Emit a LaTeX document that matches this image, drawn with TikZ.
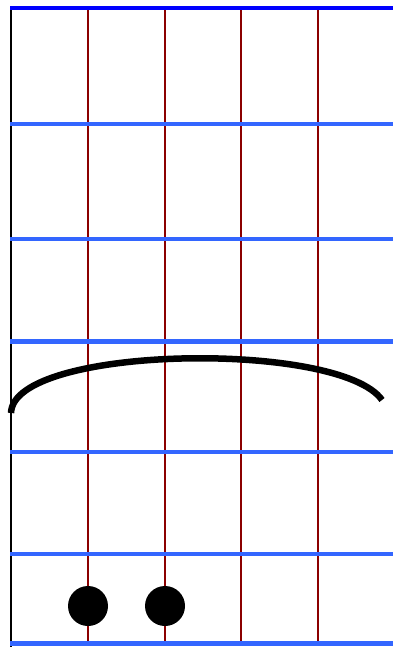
\documentclass[tikz,border=0pt]{standalone}
\usepackage{tikz}

\definecolor{fretblue}{RGB}{51,102,255}
\definecolor{nutblue}{RGB}{0,0,255}
\definecolor{stringred}{RGB}{139,0,0}

\tikzset{every picture/.style={line width=0.75pt}}
\tikzset{
	fret/.style={draw=fretblue, line width=4.5pt},
	nutline/.style={draw=nutblue, line width=4.5pt},
	stringline/.style={draw=stringred, line width=1.8pt},
	fingerdot/.style={circle, fill=black, inner sep=0pt, minimum size=40pt},
}

\begin{document}
\begin{tikzpicture}[x=1pt,y=1pt,yscale=-1,xscale=1]
	\useasboundingbox (0,0) rectangle (393,647);
	
	%Straight Lines [left string]
	\draw  [line width=2pt]  (10.5,7) -- (10.5,647) ;
	%Straight Lines [strings]
	\draw  [stringline]  (88,10) -- (88,644) ;
	\draw  [stringline]  (165,10) -- (165,644) ;
	\draw  [stringline]  (241,10) -- (241,644) ;
	\draw  [stringline]  (318,10) -- (318,644) ;
	
	%Straight Lines [nut]
	\draw  [nutline]  (10,8) -- (393,8) ;
	%Straight Lines [frets]
	\draw  [fret]  (10,124) -- (393,124) ;
	\draw  [fret]  (10,239) -- (393,239) ;
	\draw  [fret]  (10,341.5) -- (393,341.5) ;
	\draw  [fret]  (10,452) -- (393,452) ;
	\draw  [fret]  (10,554) -- (393,554) ;
	\draw  [fret]  (10,643.5) -- (393,643.5) ;
	
	%Curve Lines [barre]
	\coordinate (barreL) at (11,413);
	\coordinate (barreR) at (382,400);
	\draw  [line width=6.5pt]  (barreL) .. controls (13,345) and (340,340) .. (barreR) ;
	
	%Shape: Circle [fingers]
	\node [fingerdot] (dotA) at (88,606) {};
	\node [fingerdot] (dotB) at (165,606) {};
	
\end{tikzpicture}
\end{document}
